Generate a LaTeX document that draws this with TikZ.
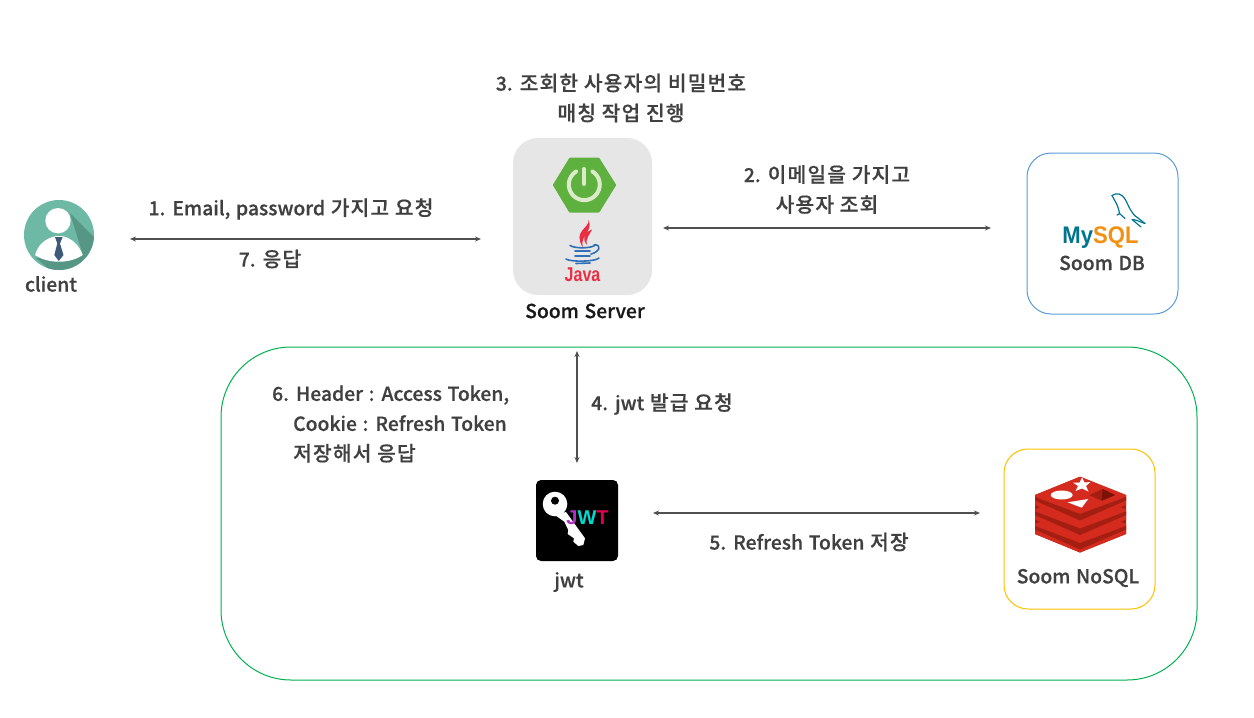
\documentclass[tikz,border=0pt]{standalone}
\usepackage{fontspec}
\setmainfont{Noto Sans CJK KR Medium}[WordSpace=1.3, FakeBold=.6]
\newfontfamily\krfont{Noto Sans CJK KR Medium}[Scale=1.05, LetterSpace=6, FakeBold=.6]
\newfontfamily\logofont{Liberation Sans}
\newcommand{\kr}[1]{{\krfont #1}}
\definecolor{txtgray}{HTML}{404040}
\definecolor{arrowgray}{HTML}{505050}
\definecolor{srvgray}{HTML}{E7E6E6}
\definecolor{zonegreen}{HTML}{00B050}
\definecolor{dbblue}{HTML}{5B9BD5}
\definecolor{nosqlyellow}{HTML}{FFC000}
\definecolor{springgreen}{HTML}{5FB13F}
\definecolor{springwhite}{HTML}{DDEBCB}
\definecolor{javablue}{HTML}{2E6FB7}
\definecolor{javared}{HTML}{EA2F45}
\definecolor{mysqlteal}{HTML}{00758F}
\definecolor{mysqlorange}{HTML}{F29111}
\definecolor{redisred}{HTML}{D52B1E}
\definecolor{redisdark}{HTML}{A41E11}
\definecolor{redisdeep}{HTML}{7A1205}
\definecolor{clientteal}{HTML}{6DB9A5}
\definecolor{clientdark}{HTML}{559684}
\definecolor{tieblue}{HTML}{3F5A78}
\definecolor{jwtviolet}{HTML}{B030C8}
\definecolor{jwtcyan}{HTML}{00D8D0}
\definecolor{jwtred}{HTML}{E0004D}
\tikzset{
	lbl/.style={text=txtgray, font=\fontsize{19.3}{30}\selectfont, inner sep=0pt},
	iconbox/.style={draw, line width=1pt, inner sep=0pt, outer sep=0pt},
	biarrow/.style={<->, >={Stealth[length=6pt,width=5pt]}, line width=1.5pt, draw=arrowgray},
}
\usetikzlibrary{arrows.meta}
\begin{document}
\begin{tikzpicture}[x=1pt, y=-1pt, line join=round, line cap=round]
	\useasboundingbox (0,0) rectangle (1254,718);
	% jwt zone
	\node[iconbox, draw=zonegreen, rounded corners=70pt, minimum width=976pt, minimum height=333pt] (jwtzone) at (709,513.5) {};
	% boxes
	\node[iconbox, draw=none, fill=srvgray, rounded corners=25pt, minimum width=139pt, minimum height=157pt] (server) at (582.5,216.5) {};
	\node[iconbox, draw=dbblue, rounded corners=24pt, minimum width=151pt, minimum height=161pt] (mysqlbox) at (1102.5,233.5) {};
	\node[iconbox, draw=nosqlyellow, rounded corners=24pt, minimum width=151pt, minimum height=160pt] (redisbox) at (1079.5,529) {};
	\node[iconbox, draw=none, fill=black, rounded corners=5pt, minimum width=82pt, minimum height=81pt] (jwt) at (577,520.5) {};
	\node[circle, fill=clientteal, inner sep=0pt, outer sep=0pt, minimum size=70pt] (client) at (59,235) {};
	% client
	\begin{scope}
		\clip (59,235) circle (35);
		\fill[clientdark] (70,213)--(100,243)--(97,277)--(50,270)--(36,258)--(83,255)--cycle;
	\end{scope}
	\fill[white] (58,220.7) circle (12.7);
	\fill[white] (35,255) .. controls (38,245) and (45,238) .. (56.7,236)--(61.7,236) .. controls (72,238) and (79,245) .. (82.7,255) .. controls (70,264) and (48,264) .. cycle;
	\fill[tieblue] (55,237)--(62.7,237)--(60,243.5)--(63.5,255)--(58.7,261)--(54.3,255)--(57.3,243.5)--cycle;
	% spring
	\fill[springgreen, draw=springgreen, line width=3pt] (554.5,185)--(570.3,159.2)--(598.3,159.2)--(614.5,185)--(598.3,211.2)--(570.3,211.2)--cycle;
	\draw[draw=springwhite, line width=4pt] (592.5,171.5) arc (-58:238:15.5);
	\draw[draw=springwhite, line width=4pt] (584,169)--(584,184);
	% java
	\fill[javared] (588.5,220) .. controls (590,228) and (572,231) .. (583,247.5) .. controls (579,236) and (594,231) .. cycle;
	\fill[javared] (592,229.5) .. controls (583,233) and (582,239) .. (587,245) .. controls (585,238) and (590,235) .. cycle;
	\begin{scope}[draw=javablue, line width=1.6pt]
		\draw (570,245.5) .. controls (575,248.5) and (588,248.5) .. (594,246);
		\draw (575,251) -- (590,251);
		\draw (575,256) -- (590,256);
		\draw (594,245) .. controls (602,244) and (600,252) .. (591,254);
		\draw (566,259) .. controls (570,262) and (595,262) .. (599,258);
		\draw (576,263.5) -- (590,263);
	\end{scope}
	\node[text=javared, font=\logofont\bfseries\fontsize{20}{20}\selectfont, inner sep=0pt] (javalogo) at (582.5,275) {\scalebox{.8}[1]{Java}};
	% mysql
	\node[font=\logofont\bfseries\fontsize{24}{24}\selectfont, inner sep=0pt, anchor=base] (mysqllogo) at (1100.5,243.5) {\scalebox{.92}[1]{\textcolor{mysqlteal}{My}\textcolor{mysqlorange}{SQL}}};
	\begin{scope}[draw=mysqlteal, line width=1.2pt]
		\draw (1112,195.5) .. controls (1117,192) and (1122,194) .. (1125,199) .. controls (1129,206) and (1131,214) .. (1138,218) -- (1145,223.5);
		\draw (1112,195.5) .. controls (1114,200) and (1118,204) .. (1119.5,213.5) -- (1117,215);
		\draw (1119.5,213.5) -- (1125,218.5);
		\draw (1145,223.5) .. controls (1140,222) and (1136,219.5) .. (1132,219.5) -- (1141,227);
	\end{scope}
	% redis
	\fill[redisdark] (1035,495)--(1035,534)--(1080,552.5)--(1126,534)--(1126,495)--cycle;
	\foreach \dy in {29,14.5,0} {
		\begin{scope}[shift={(0,\dy)}]
			\fill[redisred] (1035,495)--(1080,476.7)--(1126,495)--(1126,505)--(1080,523.5)--(1035,505)--cycle;
			\fill[redisdark] (1035,497)--(1080,514)--(1126,497)--(1126,500.5)--(1080,520.5)--(1035,500.5)--cycle;
			\fill[redisred] (1035,495)--(1080,476.7)--(1126,495)--(1080,513.3)--cycle;
		\end{scope}
	}
	\fill[white] (1082,477.5) -- (1084.5,482.5) -- (1090.5,482) -- (1086,486) -- (1088.5,491.5) -- (1082,488.5) -- (1075.5,491) -- (1078,486) -- (1073,482.5) -- (1079.5,482.5) -- cycle;
	\fill[white] (1061.7,495) ellipse (11 and 4.5);
	\fill[white] (1067.7,502.3)--(1088.3,499)--(1081.7,507.7)--cycle;
	\fill[redisdark] (1089.3,495)--(1102.7,489)--(1115,495)--(1101.7,500.7)--cycle;
	\fill[redisdeep] (1102.7,489)--(1115,495)--(1101.7,500.7)--cycle;
	% jwt
	\fill[white] (555,504) circle (12.3);
	\fill[white] (566,512)--(585,538.3)--(583.3,545)--(578.3,546)--(573.3,541.7)--(574,538.3)--(567.7,534)--(568.3,530)--(564.3,521.7)--(555,515)--cycle;
	\fill[black] (555,500.7) circle (4);
	\node[font=\logofont\bfseries\fontsize{20}{20}\selectfont, inner sep=0pt, anchor=base] (jwtlogo) at (587.5,524) {\textcolor{jwtviolet}{J}\textcolor{jwtcyan}{W}\textcolor{jwtred}{T}};
	% labels
	\node[lbl, align=center] (step3) at (621,98) {3. \kr{조회한 사용자의 비밀번호}\\\kr{매칭 작업 진행}};
	\node[lbl, align=center] (step2) at (827,189.5) {2. \kr{이메일을 가지고}\\\kr{사용자 조회}};
	\node[lbl] (step1) at (291,209) {1. Email, password \kr{가지고 요청}};
	\node[lbl] (step7) at (270,259) {7. \kr{응답}};
	\node[lbl] (clientlbl) at (51,284) {client};
	\node[lbl, text=black!90] (serverlbl) at (585,311) {Soom Server};
	\node[lbl] (dblbl) at (1102,263) {Soom DB};
	\node[lbl] (nosqllbl) at (1078,578) {Soom NoSQL};
	\node[lbl] (jwtlbl) at (569,582) {jwt};
	\node[lbl, align=left, anchor=west] (step6) at (272,424) {6. Header : Access Token,\\\hspace*{21pt}Cookie : Refresh Token\\\hspace*{21pt}\kr{저장해서 응답}};
	\node[lbl] (step4) at (662,404) {4. jwt \kr{발급 요청}};
	\node[lbl] (step5) at (809,542) {5. Refresh Token \kr{저장}};
	% arrows
	\draw[biarrow, shorten <=36pt, shorten >=32pt] (client.east |- 0,239) -- (server.west |- 0,239);
	\draw[biarrow, shorten <=11pt, shorten >=36pt] (server.east |- 0,228) -- (mysqlbox.west |- 0,228);
	\draw[biarrow, shorten <=56pt, shorten >=17pt] (577,295) -- (jwt.north -| 577,0);
	\draw[biarrow, shorten <=35pt, shorten >=24pt] (jwt.east |- 0,513) -- (redisbox.west |- 0,513);
\end{tikzpicture}
\end{document}
